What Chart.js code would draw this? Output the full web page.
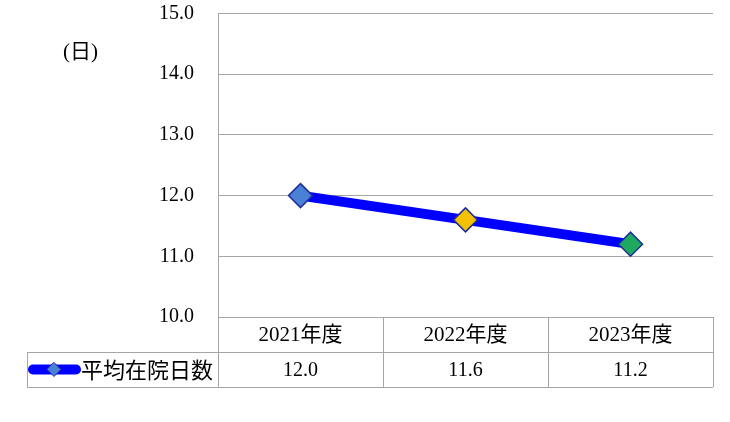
<!DOCTYPE html>
<html>
<head>
<meta charset="utf-8">
<script src="https://cdn.jsdelivr.net/npm/chart.js@4/dist/chart.umd.min.js"></script>
<style>
  html, body { margin: 0; padding: 0; background: #fff; }
  #wrap { width: 730px; height: 422px; }
</style>
</head>
<body>
<div id="wrap"><canvas id="c"></canvas></div>
<script>
  // data
  var categories = ['2021年度', '2022年度', '2023年度'];
  var seriesName = '平均在院日数';
  var stayDays = [12.0, 11.6, 11.2];
  var pointColors = ['#4a80d6', '#f5c000', '#1fa860'];
  var yUnit = '(日)';

  var GRID = '#a6a6a6';
  var LINE = '#0000ff';
  var EDGE = '#1f2f99';
  var SERIF = '"Liberation Serif", "Noto Sans CJK JP", serif';
  var SANS = '"Noto Sans CJK JP", "Noto Sans", sans-serif';

  Chart.defaults.font.family = SERIF;
  Chart.defaults.color = '#000';

  // draws the data table under the plot and the unit label
  var tablePlugin = {
    id: 'dataTable',
    afterDraw: function (chart) {
      var ctx = chart.ctx;
      var x = chart.scales.x;
      var area = chart.chartArea;
      var colW = (x.right - x.left) / categories.length;
      var top = area.bottom, mid = top + 35, bot = top + 70;
      var tableLeft = 27;

      ctx.save();
      ctx.strokeStyle = GRID;
      ctx.lineWidth = 1;
      ctx.beginPath();
      ctx.moveTo(tableLeft, mid + 0.5); ctx.lineTo(area.right, mid + 0.5);
      ctx.moveTo(tableLeft, bot + 0.5); ctx.lineTo(area.right, bot + 0.5);
      ctx.moveTo(tableLeft + 0.5, mid); ctx.lineTo(tableLeft + 0.5, bot);
      for (var i = 0; i <= categories.length; i++) {
        var cx = Math.round(x.left + i * colW) + 0.5;
        ctx.moveTo(cx, top); ctx.lineTo(cx, bot);
      }
      ctx.stroke();

      ctx.fillStyle = '#000';
      ctx.textAlign = 'center';
      ctx.textBaseline = 'middle';
      categories.forEach(function (c, i) {
        var px = x.getPixelForValue(i);
        ctx.font = '21px ' + SERIF;
        ctx.fillText(c, px, (top + mid) / 2 + 1);
        ctx.font = '20px ' + SERIF;
        ctx.fillText(stayDays[i].toFixed(1), px, (mid + bot) / 2 + 1);
      });

      // legend key in the row header
      var ly = (mid + bot) / 2;
      ctx.strokeStyle = LINE;
      ctx.lineWidth = 10;
      ctx.lineCap = 'round';
      ctx.beginPath();
      ctx.moveTo(33, ly); ctx.lineTo(76, ly);
      ctx.stroke();
      ctx.fillStyle = pointColors[0];
      ctx.strokeStyle = EDGE;
      ctx.lineWidth = 1;
      ctx.beginPath();
      ctx.moveTo(54, ly - 7); ctx.lineTo(61, ly); ctx.lineTo(54, ly + 7); ctx.lineTo(47, ly);
      ctx.closePath();
      ctx.fill(); ctx.stroke();

      ctx.fillStyle = '#000';
      ctx.textAlign = 'left';
      ctx.font = '22px ' + SANS;
      ctx.fillText(seriesName, 81, ly);

      // unit label
      ctx.font = '21px ' + SERIF;
      ctx.fillText(yUnit, 63, 52);
      ctx.restore();
    }
  };

  new Chart(document.getElementById('c'), {
    type: 'line',
    data: {
      labels: categories,
      datasets: [{
        label: seriesName,
        data: stayDays,
        borderColor: LINE,
        borderWidth: 10,
        pointStyle: 'rectRot',
        pointRadius: 12,
        pointHoverRadius: 12,
        pointBackgroundColor: pointColors,
        pointBorderColor: EDGE,
        pointBorderWidth: 1.5,
        tension: 0
      }]
    },
    options: {
      responsive: true,
      maintainAspectRatio: false,
      animation: false,
      layout: { padding: { top: 12, right: 17, bottom: 105, left: 0 } },
      plugins: { legend: { display: false }, tooltip: { enabled: false } },
      scales: {
        x: { type: 'category', offset: true, display: false },
        y: {
          min: 10, max: 15,
          afterFit: function (scale) {
            scale.width = 218;
            scale.paddingTop = 0;
            scale.paddingBottom = 0;
          },
          grid: { color: GRID, lineWidth: 1, drawTicks: false },
          border: { display: true, color: GRID, width: 1 },
          ticks: {
            stepSize: 1,
            padding: 24,
            color: '#000',
            font: { size: 20, family: SERIF },
            callback: function (v) { return Number(v).toFixed(1); }
          }
        }
      }
    },
    plugins: [tablePlugin]
  });
</script>
</body>
</html>
